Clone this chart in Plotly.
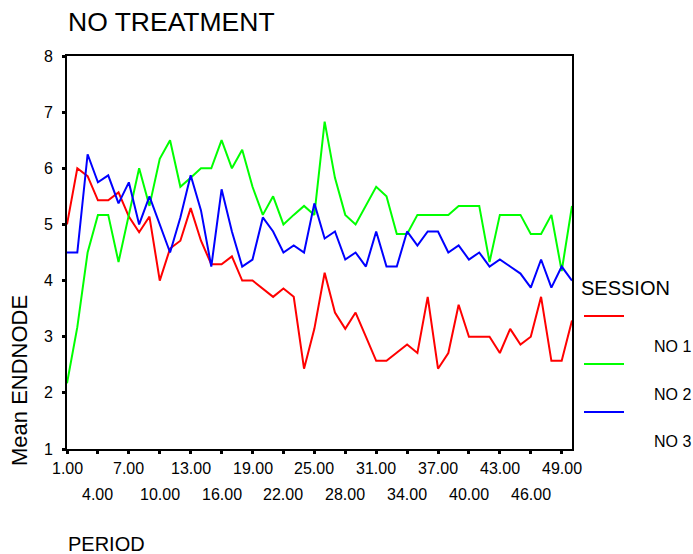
import plotly.graph_objects as go

periods = list(range(1, 51))
session_names = ["NO 1", "NO 2", "NO 3"]
session_colors = ["#FF0000", "#00FF00", "#0000FF"]

no1 = [5.00, 6.00, 5.86, 5.43, 5.43, 5.57, 5.14, 4.86, 5.14, 4.00,
       4.57, 4.71, 5.29, 4.71, 4.29, 4.29, 4.43, 4.00, 4.00, 3.86,
       3.71, 3.86, 3.71, 2.43, 3.14, 4.14, 3.43, 3.14, 3.43, 3.00,
       2.57, 2.57, 2.71, 2.86, 2.71, 3.71, 2.43, 2.71, 3.57, 3.00,
       3.00, 3.00, 2.71, 3.14, 2.86, 3.00, 3.71, 2.57, 2.57, 3.29]
no2 = [2.17, 3.17, 4.50, 5.17, 5.17, 4.33, 5.17, 6.00, 5.33, 6.17,
       6.50, 5.67, 5.83, 6.00, 6.00, 6.50, 6.00, 6.33, 5.67, 5.17,
       5.50, 5.00, 5.17, 5.33, 5.17, 6.83, 5.83, 5.17, 5.00, 5.33,
       5.67, 5.50, 4.83, 4.83, 5.17, 5.17, 5.17, 5.17, 5.33, 5.33,
       5.33, 4.33, 5.17, 5.17, 5.17, 4.83, 4.83, 5.17, 4.17, 5.33]
no3 = [4.500, 4.500, 6.250, 5.750, 5.875, 5.375, 5.750, 5.000, 5.500, 5.000,
       4.500, 5.125, 5.875, 5.250, 4.250, 5.625, 4.875, 4.250, 4.375, 5.125,
       4.875, 4.500, 4.625, 4.500, 5.375, 4.750, 4.875, 4.375, 4.500, 4.250,
       4.875, 4.250, 4.250, 4.875, 4.625, 4.875, 4.875, 4.500, 4.625, 4.375,
       4.500, 4.250, 4.375, 4.250, 4.125, 3.875, 4.375, 3.875, 4.250, 4.000]
series = [no1, no2, no3]

x_ticks_row1 = [1, 7, 13, 19, 25, 31, 37, 43, 49]
x_ticks_row2 = [4, 10, 16, 22, 28, 34, 40, 46]
y_ticks = [1, 2, 3, 4, 5, 6, 7, 8]

FONT = "Liberation Sans, Arial, sans-serif"
W, H = 693, 554
L, R, T, B = 67, 121, 56, 105


def px(xp):
    return (xp - L) / (W - L - R)


def py(yp):
    return (H - B - yp) / (H - T - B)


fig = go.Figure()
for name, color, vals in zip(session_names, session_colors, series):
    fig.add_trace(go.Scatter(x=periods, y=vals, mode="lines", name=name,
                             line=dict(color=color, width=2),
                             showlegend=False))

axis_common = dict(showgrid=False, zeroline=False, showline=True, mirror=True,
                   linecolor="black", linewidth=2,
                   ticks="outside", ticklen=3, tickwidth=3, tickcolor="black",
                   tickfont=dict(family=FONT, size=16, color="black"))

all_x_ticks = sorted(x_ticks_row1 + x_ticks_row2)
fig.update_layout(
    width=W, height=H,
    margin=dict(l=L, r=R, t=T, b=B),
    paper_bgcolor="white", plot_bgcolor="white",
    xaxis=dict(range=[1, 50], tickvals=all_x_ticks, showticklabels=False,
               **axis_common),
    yaxis=dict(range=[1, 8], tickvals=y_ticks,
               ticktext=[str(v) for v in y_ticks],
               ticklabelstandoff=6, **axis_common),
    showlegend=False,
)

ann = []
for row, ticks in enumerate([x_ticks_row1, x_ticks_row2]):
    for v in ticks:
        ann.append(dict(text=f"{v:.2f}", xref="x", yref="paper",
                        x=v, y=py(468 + 26 * row), xanchor="center",
                        yanchor="middle", showarrow=False,
                        font=dict(family=FONT, size=16, color="black")))

ann.append(dict(text="NO TREATMENT", xref="paper", yref="paper",
                x=px(66), y=py(22), xanchor="left", yanchor="middle",
                showarrow=False, font=dict(family=FONT, size=26.5, color="black")))
ann.append(dict(text="PERIOD", xref="paper", yref="paper",
                x=px(66), y=py(544), xanchor="left", yanchor="middle",
                showarrow=False, font=dict(family=FONT, size=20, color="black")))
ann.append(dict(text="Mean ENDNODE", xref="paper", yref="paper",
                x=px(19), y=py(381), xanchor="center", yanchor="middle",
                textangle=-90, showarrow=False,
                font=dict(family=FONT, size=22, color="black")))
ann.append(dict(text="SESSION", xref="paper", yref="paper",
                x=px(579), y=py(288), xanchor="left", yanchor="middle",
                showarrow=False, font=dict(family=FONT, size=20, color="black")))

shapes = []
line_y = [316, 364, 412]
label_y = [346, 394, 441]
for name, color, ly, ty in zip(session_names, session_colors, line_y, label_y):
    shapes.append(dict(type="line", xref="paper", yref="paper",
                       x0=px(584), x1=px(624), y0=py(ly), y1=py(ly),
                       line=dict(color=color, width=2)))
    ann.append(dict(text=name, xref="paper", yref="paper",
                    x=px(652), y=py(ty), xanchor="left", yanchor="middle",
                    showarrow=False, font=dict(family=FONT, size=16, color="black")))

fig.update_layout(annotations=ann, shapes=shapes)
fig.write_html("out.html",
               config={"displayModeBar": False},
               post_script="document.body.style.margin='0';"
                           "document.body.style.overflow='hidden';")
